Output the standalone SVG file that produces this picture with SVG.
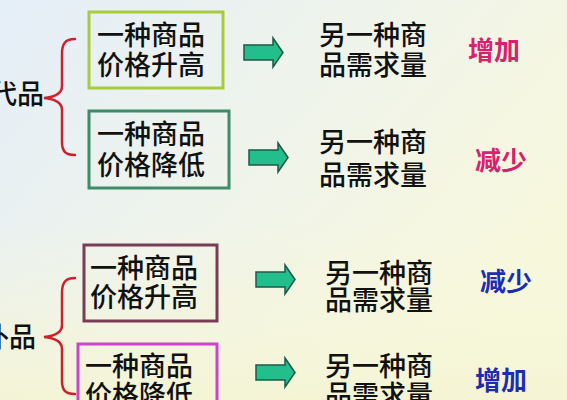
<svg xmlns="http://www.w3.org/2000/svg" width="567" height="400" viewBox="0 0 567 400">
<defs>
<linearGradient id="bg" x1="0" y1="0" x2="1" y2="0.6">
<stop offset="0" stop-color="#e4eef8"/>
<stop offset="0.45" stop-color="#eef3ec"/>
<stop offset="1" stop-color="#f8f8dc"/>
</linearGradient>
<linearGradient id="bg2" x1="0" y1="0" x2="0" y2="1">
<stop offset="0" stop-color="#f6f6dc" stop-opacity="0"/>
<stop offset="0.55" stop-color="#f6f6dc" stop-opacity="0"/>
<stop offset="1" stop-color="#f4f4d4" stop-opacity="0.9"/>
</linearGradient>
<path id="arr" d="M0,7 H29 V0 L39,14.5 L29,29 V22 H0 Z"/>
</defs>
<style>
.t{font-family:"Noto Sans CJK SC","Noto Sans",sans-serif;font-size:27px;font-weight:500;fill:#111}
.r{font-family:"Noto Sans CJK SC","Noto Sans",sans-serif;font-size:26px;font-weight:600}
.box{fill:none;stroke-width:3}
.brace{fill:none;stroke:#d0202c;stroke-width:2.5;stroke-linecap:round}
.a{fill:#22bf8c;stroke:#1c5a48;stroke-width:1.5}
</style>
<rect width="567" height="400" fill="url(#bg)"/>
<rect width="567" height="400" fill="url(#bg2)"/>
<g id="label-substitute"><text class="t" x="-10" y="104">代品</text></g>
<g id="label-complement"><text class="t" x="-18" y="347">补品</text></g>
<g id="connectors">
<path class="brace" d="M75,39 C65,39 62,44 62,54 V86 C62,94 55,97 44,98 C55,99 62,102 62,110 V142 C62,151 65,155 75,155"/>
<path class="brace" d="M75,278 C65,278 62,283 62,293 V325 C62,333 55,336 44,337 C55,338 62,341 62,349 V381 C62,390 65,394 75,394"/>
<use href="#arr" class="a" x="244" y="38"/>
<use href="#arr" class="a" x="249" y="143"/>
<use href="#arr" class="a" x="256" y="265"/>
<use href="#arr" class="a" x="256" y="358"/>
</g>
<g id="box1"><rect class="box" x="89" y="12" width="134" height="76" stroke="#a6cc3c"/>
<text class="t" x="97" y="45">一种商品</text><text class="t" x="97" y="75">价格升高</text></g>
<g id="box2"><rect class="box" x="89" y="111" width="140" height="77" stroke="#3c8c68"/>
<text class="t" x="97" y="144">一种商品</text><text class="t" x="97" y="175">价格降低</text></g>
<g id="box3"><rect class="box" x="84" y="245" width="133" height="76" stroke="#7a3c54"/>
<text class="t" x="90" y="278">一种商品</text><text class="t" x="90" y="307">价格升高</text></g>
<g id="box4"><rect class="box" x="78" y="344" width="139" height="70" stroke="#cc44cc"/>
<text class="t" x="85" y="376">一种商品</text><text class="t" x="85" y="405">价格降低</text></g>
<g id="result1"><text class="t" x="319" y="45">另一种商</text><text class="t" x="319" y="75">品需求量</text></g>
<g id="result2"><text class="t" x="319" y="152">另一种商</text><text class="t" x="319" y="185">品需求量</text></g>
<g id="result3"><text class="t" x="325" y="283">另一种商</text><text class="t" x="325" y="310">品需求量</text></g>
<g id="result4"><text class="t" x="325" y="376">另一种商</text><text class="t" x="325" y="405">品需求量</text></g>
<g id="effect1"><text class="r" x="468" y="60" fill="#d8206c">增加</text></g>
<g id="effect2"><text class="r" x="475" y="170" fill="#d8206c">减少</text></g>
<g id="effect3"><text class="r" x="480" y="291" fill="#1c2cb4">减少</text></g>
<g id="effect4"><text class="r" x="475" y="390" fill="#1c2cb4">增加</text></g>
</svg>
